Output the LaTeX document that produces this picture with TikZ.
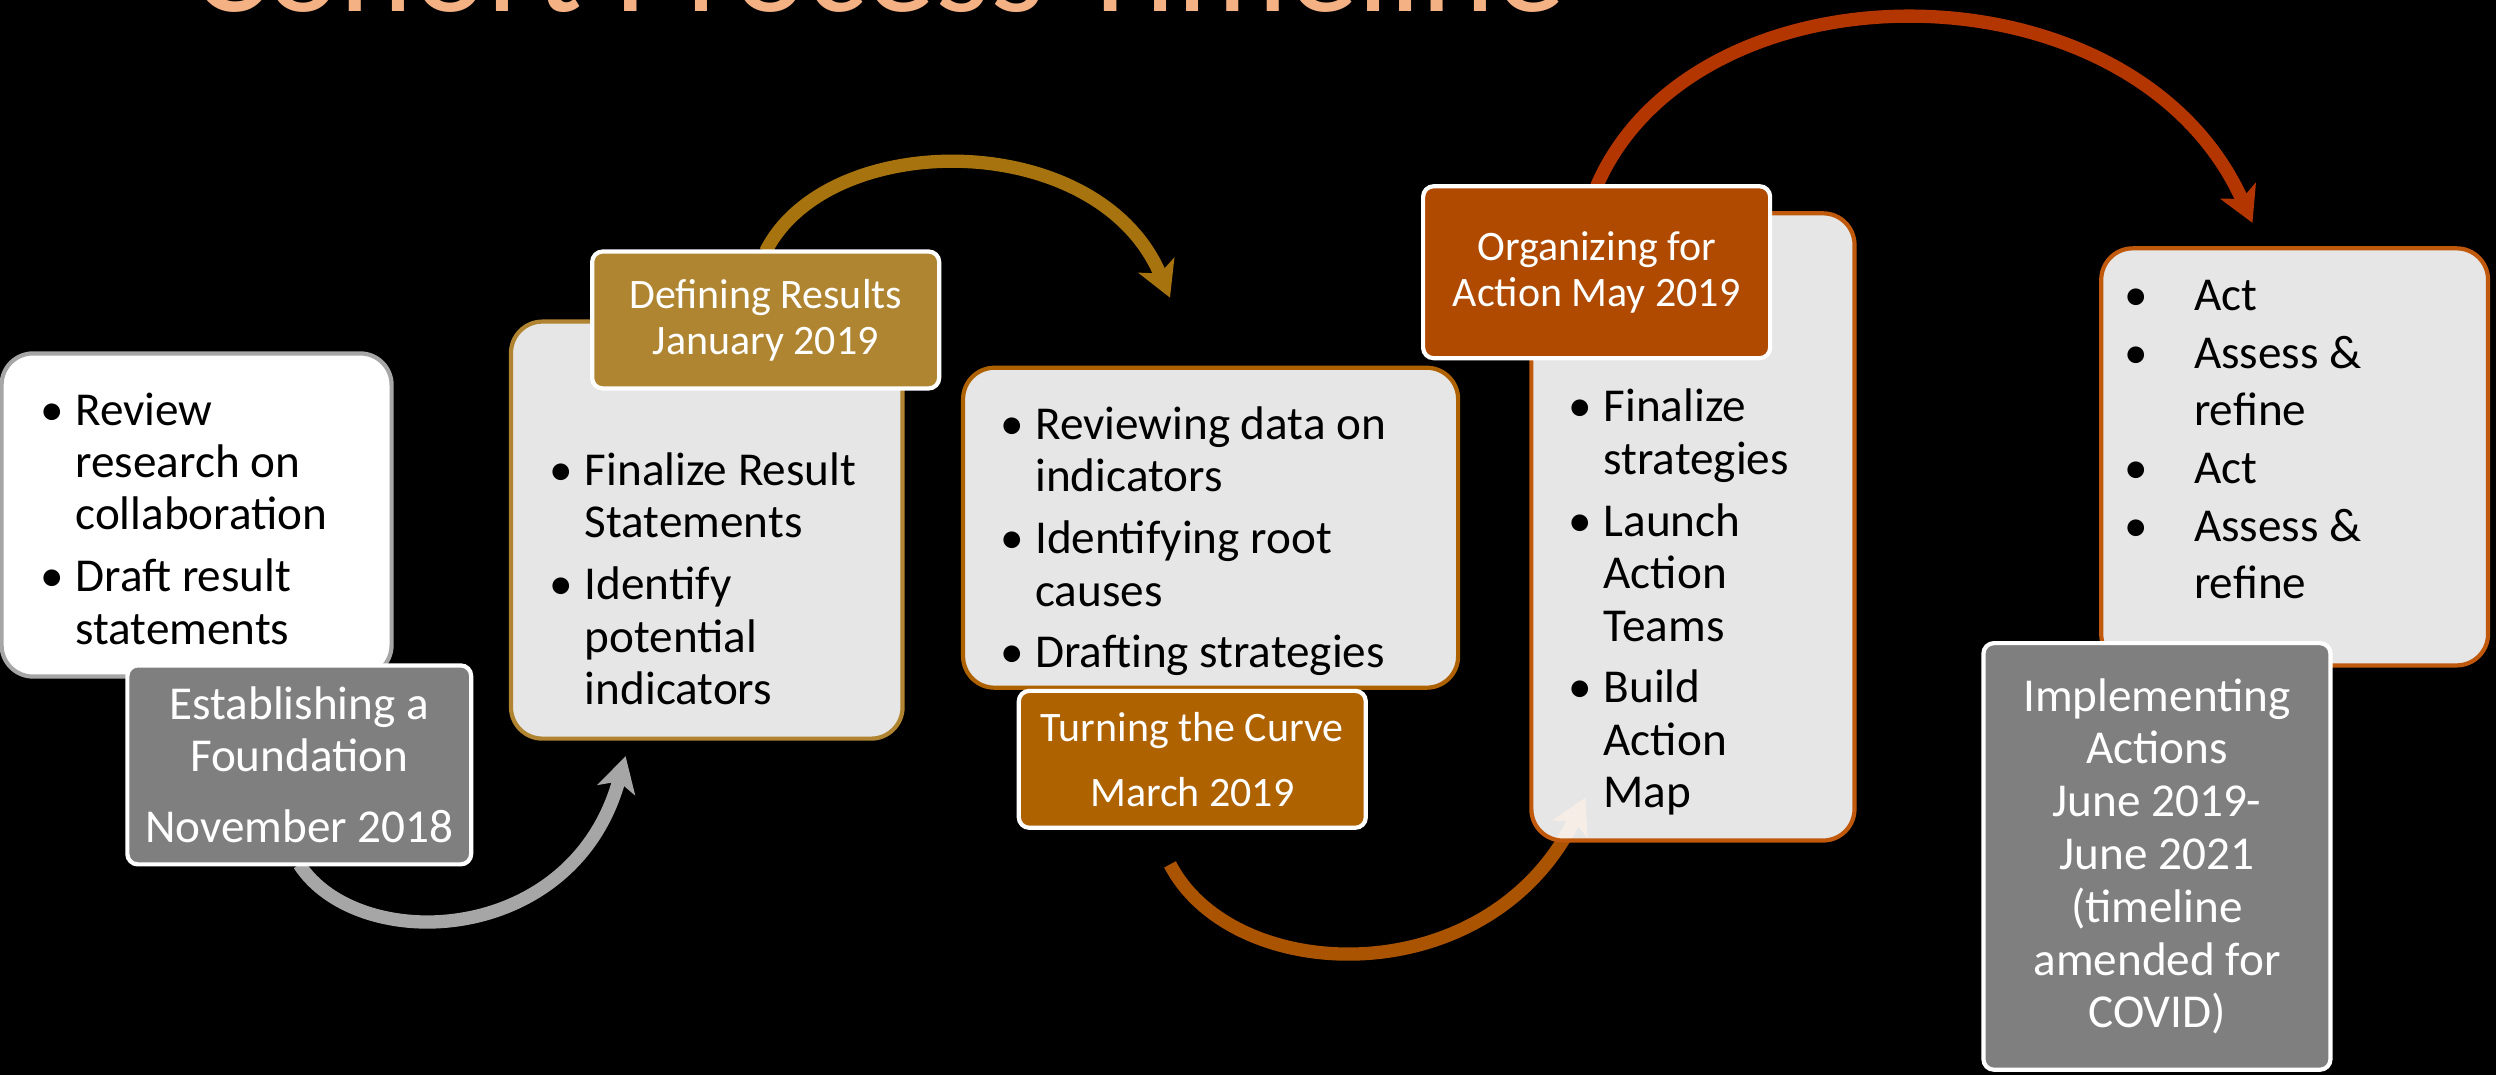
\documentclass[tikz,border=0pt]{standalone}
\usepackage{fontspec}
\setmainfont{Carlito}
\usetikzlibrary{arrows.meta}

\definecolor{ttlpeach}{HTML}{F4B183}
\definecolor{lblgray}{HTML}{7F7F7F}
\definecolor{lblgold}{HTML}{AF8532}
\definecolor{lblorange}{HTML}{AF6200}
\definecolor{lblrust}{HTML}{B04A00}
\definecolor{linegold}{HTML}{B08430}
\definecolor{lineorange}{HTML}{AE6100}
\definecolor{linerust}{HTML}{C0590C}
\definecolor{arrgray}{HTML}{A6A6A6}
\definecolor{arrgold}{HTML}{A6730F}
\definecolor{arrorange}{HTML}{AA5300}
\definecolor{arrrust}{HTML}{B33500}

\newcommand\bul[1][10pt]{\makebox[#1][l]{\textbullet}}

\begin{document}
\begin{tikzpicture}[x=0.016cm,y=-0.016cm,
  sz/.style 2 args={minimum width=#1*0.016cm,minimum height=#2*0.016cm},
  box/.style={rounded corners=9pt,line width=1.2pt,fill=white,fill opacity=.9,inner sep=0pt},
  lbl/.style={draw=white,line width=1.2pt,rounded corners=3pt,text=white,align=center,inner sep=0pt},
  txt/.style={anchor=base west,inner sep=0pt,font=\fontsize{13.5}{15}\selectfont},
  arr/.style={line width=3.8pt,-{Stealth[length=10pt,width=11pt,inset=2.5pt]}}]
  \useasboundingbox (0,0) rectangle (1568,675);
  \fill[black] (0,0) rectangle (1568,675);
  \clip (0,0) rectangle (1568,675);
  \node[anchor=base west,inner sep=0pt,text=ttlpeach,font=\fontsize{40}{48}\selectfont] (ttl) at (120,7) {Cohort Process Timeline};

  % free ends of the curved arrows
  \coordinate (g1) at (393,475);
  \coordinate (g2) at (735,187);
  \coordinate (o1) at (735,543);
  \coordinate (g3) at (996,501);
  \coordinate (g4) at (1415,140);

  % label positions, needed by the arrows
  \path (188,480.5) coordinate (p1) (481,201) coordinate (p2) (1003,171) coordinate (p4);

  \draw[arr,arrgray] (p1|-0,543) .. controls +(37,57) and +(-33,120) .. (g1);
  \draw[arr,arrgold] (p2|-0,158) .. controls +(39,-78) and +(-45,-107) .. (g2);
  \draw[arr,arrorange] (o1) .. controls +(40,77) and +(-61,124) .. (g3);
  \draw[arr,arrrust] (p4|-0,117) .. controls +(62,-144) and +(-75,-167) .. (g4);

  % boxes
  \node[box,draw=arrgray,fill opacity=1,sz={245}{203}] (b1) at (123.5,323.5) {};
  \node[box,draw=linegold,sz={246}{262}] (b2) at (444,333) {};
  \node[box,draw=lineorange,sz={311}{201}] (b3) at (760.5,331.5) {};
  \node[box,draw=linerust,sz={203}{394}] (b4) at (1063.5,331) {};
  \node[box,draw=linerust,sz={243}{262}] (b5) at (1441.5,287) {};

  \node[txt] (t1) at (25,267) {\begin{tabular}[t]{@{}l@{}l@{}}
    \bul & Review\\ & research on\\ & collaboration\\[2.7pt]
    \bul & Draft result\\ & statements\end{tabular}};
  \node[txt] (t2) at (345,305) {\begin{tabular}[t]{@{}l@{}l@{}}
    \bul & Finalize Result\\ & Statements\\[2.7pt]
    \bul & Identify\\ & potential\\ & indicators\end{tabular}};
  \node[txt] (t3) at (628,276) {\begin{tabular}[t]{@{}l@{}l@{}}
    \bul & Reviewing data on\\ & indicators\\[2.7pt]
    \bul & Identifying root\\ & causes\\[2.7pt]
    \bul & Drafting strategies\end{tabular}};
  \node[txt] (t4) at (985,265) {\begin{tabular}[t]{@{}l@{}l@{}}
    \bul & Finalize\\ & strategies\\[2.7pt]
    \bul & Launch\\ & Action\\ & Teams\\[2.7pt]
    \bul & Build\\ & Action\\ & Map\end{tabular}};
  \node[txt,font=\fontsize{13.5}{16.5}\selectfont] (t5) at (1334,195) {\begin{tabular}[t]{@{}l@{}l@{}}
    \bul[20pt] & Act\\
    \bul[20pt] & Assess \&\\ & refine\\
    \bul[20pt] & Act\\
    \bul[20pt] & Assess \&\\ & refine\end{tabular}};

  % labels
  \node[lbl,fill=lblgray,sz={216}{125},font=\fontsize{13.5}{15}\selectfont] (l1) at (p1)
    {Establishing a\\Foundation\\[5.4pt]November 2018};
  \node[lbl,fill=lblgold,sz={218}{86},font=\fontsize{12}{13.2}\selectfont] (l2) at (p2)
    {Defining Results\\January 2019};
  \node[lbl,fill=lblorange,sz={218}{86},font=\fontsize{12}{18.6}\selectfont] (l3) at (749,477)
    {Turning the Curve\\March 2019};
  \node[lbl,fill=lblrust,sz={218}{108},font=\fontsize{12}{13.2}\selectfont] (l4) at (p4)
    {Organizing for\\Action May 2019};
  \node[lbl,fill=lblgray,sz={218}{268},font=\fontsize{13.5}{15.1}\selectfont] (l5) at (1355,538)
    {Implementing\\Actions\\June 2019-\\June 2021\\(timeline\\amended for\\COVID)};
\end{tikzpicture}
\end{document}
